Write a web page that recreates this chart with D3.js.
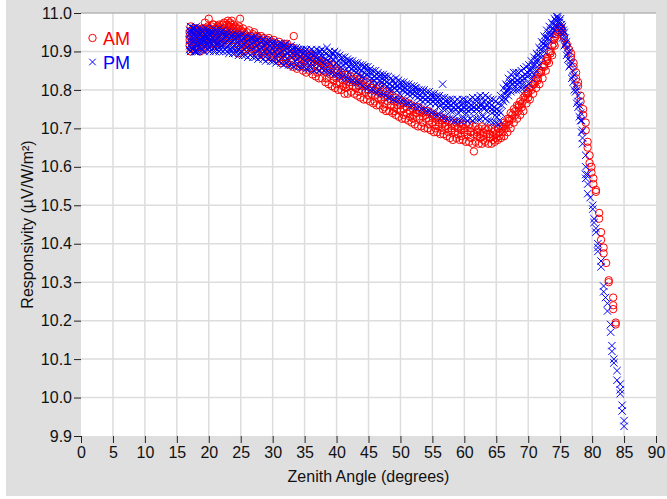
<!DOCTYPE html>
<html>
<head>
<meta charset="utf-8">
<script src="https://cdn.jsdelivr.net/npm/d3@7/dist/d3.min.js"></script>
<style>
  html, body { margin: 0; padding: 0; background: #ffffff; }
  svg { display: block; }
  text { font-family: "Liberation Sans", Arial, Helvetica, sans-serif; }
</style>
</head>
<body>
<svg id="chart" width="667" height="499"></svg>
<script>
// Axis ticks
const xTicks = [0, 5, 10, 15, 20, 25, 30, 35, 40, 45, 50, 55, 60, 65, 70, 75, 80, 85, 90];
const yTicks = [9.9, 10.0, 10.1, 10.2, 10.3, 10.4, 10.5, 10.6, 10.7, 10.8, 10.9, 11.0];

// Morning measurements: [zenith angle, [responsivity readings at that angle]]
const amRows = [
  [17.0, [10.93, 10.95, 10.915, 10.94]],
  [17.3, [10.925, 10.955, 10.91]],
  [17.6, [10.94, 10.92, 10.96]],
  [17.9, [10.935, 10.905, 10.95]],
  [18.2, [10.93, 10.945, 10.915, 10.96]],
  [18.5, [10.94, 10.925]],
  [18.8, [10.95, 10.91, 10.935]],
  [19.1, [10.94, 10.96, 10.92]],
  [19.4, [10.945, 10.93, 10.975]],
  [19.7, [10.95, 10.915]],
  [20.0, [10.985, 10.94, 10.925, 10.96]],
  [20.3, [10.95, 10.93]],
  [20.6, [10.955, 10.935, 10.97]],
  [20.9, [10.94, 10.92]],
  [21.2, [10.96, 10.945, 10.93]],
  [21.5, [10.95, 10.965]],
  [21.8, [10.94, 10.955, 10.925]],
  [22.1, [10.97, 10.95]],
  [22.4, [10.975, 10.94, 10.96]],
  [22.7, [10.955, 10.93]],
  [23.0, [10.98, 10.96, 10.945]],
  [23.3, [10.965, 10.975, 10.95]],
  [23.6, [10.98, 10.955]],
  [23.9, [10.96, 10.94, 10.97]],
  [24.2, [10.95, 10.93]],
  [24.6, [10.96, 10.895, 10.945]],
  [24.9, [10.985, 10.95]],
  [25.2, [10.94, 10.92, 10.93]],
  [25.5, [10.935, 10.95]],
  [25.8, [10.925, 10.905]],
  [26.1, [10.94, 10.92, 10.93]],
  [26.5, [10.935, 10.915]],
  [26.9, [10.93, 10.92, 10.945]],
  [27.3, [10.91, 10.93]],
  [27.6, [10.925, 10.895, 10.94]],
  [28.0, [10.915, 10.93]],
  [28.4, [10.92, 10.9]],
  [28.8, [10.91, 10.925]],
  [29.2, [10.9, 10.92, 10.93]],
  [29.6, [10.905, 10.915]],
  [30.0, [10.92, 10.895]],
  [30.4, [10.91, 10.9]],
  [30.8, [10.895, 10.915, 10.905]],
  [31.2, [10.9, 10.885]],
  [31.6, [10.91, 10.895]],
  [32.0, [10.9, 10.885, 10.915]],
  [32.5, [10.89, 10.905]],
  [33.0, [10.895, 10.875]],
  [33.3, [10.94]],
  [33.6, [10.885, 10.9]],
  [34.0, [10.87, 10.89, 10.88]],
  [34.5, [10.88, 10.865]],
  [35.0, [10.875, 10.885, 10.86]],
  [35.5, [10.87, 10.885]],
  [36.0, [10.875, 10.855, 10.89]],
  [36.5, [10.865, 10.88]],
  [37.0, [10.86, 10.875, 10.845]],
  [37.5, [10.855, 10.87]],
  [38.0, [10.85, 10.865]],
  [38.5, [10.845, 10.86, 10.83]],
  [39.0, [10.84, 10.855]],
  [39.5, [10.835, 10.825]],
  [40.0, [10.83, 10.845, 10.815]],
  [40.5, [10.82, 10.835]],
  [41.0, [10.825, 10.81]],
  [41.5, [10.815, 10.83, 10.805]],
  [42.0, [10.82, 10.81]],
  [42.5, [10.81, 10.825]],
  [43.0, [10.805, 10.82]],
  [43.5, [10.81, 10.795, 10.825]],
  [44.0, [10.8, 10.815]],
  [44.5, [10.795, 10.81]],
  [45.0, [10.8, 10.785]],
  [45.5, [10.79, 10.805]],
  [46.0, [10.785, 10.77, 10.8]],
  [46.5, [10.78, 10.795]],
  [47.0, [10.775, 10.79]],
  [47.5, [10.765, 10.78, 10.755]],
  [48.0, [10.77, 10.785]],
  [48.5, [10.76, 10.775]],
  [49.0, [10.755, 10.77, 10.745]],
  [49.5, [10.76, 10.75]],
  [50.0, [10.745, 10.76]],
  [50.5, [10.75, 10.735, 10.765]],
  [51.0, [10.74, 10.755]],
  [51.5, [10.745, 10.73]],
  [52.0, [10.735, 10.75, 10.725]],
  [52.5, [10.74, 10.73]],
  [53.0, [10.725, 10.745]],
  [53.5, [10.73, 10.715, 10.74]],
  [54.0, [10.725, 10.735]],
  [54.5, [10.72, 10.71]],
  [55.0, [10.715, 10.73]],
  [55.5, [10.71, 10.725, 10.7]],
  [56.0, [10.715, 10.705]],
  [56.5, [10.71, 10.695, 10.72]],
  [57.0, [10.705, 10.715]],
  [57.5, [10.7, 10.69]],
  [58.0, [10.71, 10.695, 10.7]],
  [58.2, [10.67]],
  [58.5, [10.69, 10.705]],
  [59.0, [10.7, 10.685]],
  [59.5, [10.695, 10.705, 10.68]],
  [60.0, [10.69, 10.7]],
  [60.5, [10.685, 10.695]],
  [61.0, [10.69, 10.675, 10.7]],
  [61.3, [10.66]],
  [61.5, [10.64, 10.685]],
  [62.0, [10.69, 10.68, 10.695]],
  [62.5, [10.685, 10.675]],
  [63.0, [10.68, 10.69, 10.67]],
  [63.5, [10.685, 10.695]],
  [64.0, [10.675, 10.685]],
  [64.5, [10.68, 10.69, 10.67]],
  [65.0, [10.685, 10.675]],
  [65.5, [10.68, 10.69]],
  [66.0, [10.7, 10.69, 10.705]],
  [66.5, [10.71, 10.7]],
  [67.0, [10.72, 10.71, 10.725]],
  [67.5, [10.735, 10.725]],
  [68.0, [10.745, 10.735]],
  [68.5, [10.755, 10.745, 10.76]],
  [69.0, [10.765, 10.755]],
  [69.5, [10.775, 10.785]],
  [70.0, [10.79, 10.78, 10.795]],
  [70.5, [10.8, 10.81]],
  [71.0, [10.815, 10.82]],
  [71.5, [10.83, 10.825, 10.84]],
  [72.0, [10.845, 10.85]],
  [72.5, [10.86, 10.865]],
  [73.0, [10.88, 10.875, 10.885]],
  [73.5, [10.9, 10.895]],
  [74.0, [10.93, 10.92]],
  [74.3, [10.94, 10.945]],
  [74.6, [10.95, 10.955]],
  [74.9, [10.965, 10.96]],
  [75.2, [10.96, 10.955]],
  [75.6, [10.94, 10.935]],
  [76.0, [10.92, 10.915]],
  [76.4, [10.905]],
  [76.7, [10.895, 10.885]],
  [77.1, [10.87, 10.86]],
  [77.5, [10.845, 10.83]],
  [77.8, [10.82, 10.81]],
  [78.2, [10.785, 10.77]],
  [78.6, [10.75, 10.735]],
  [79.0, [10.715, 10.695]],
  [79.3, [10.665, 10.65]],
  [79.6, [10.63, 10.61]],
  [79.9, [10.6, 10.585]],
  [80.2, [10.57, 10.555]],
  [80.6, [10.54, 10.535]],
  [81.1, [10.48, 10.465]],
  [81.4, [10.43, 10.41]],
  [81.8, [10.39, 10.375]],
  [82.2, [10.35]],
  [82.6, [10.305, 10.3]],
  [83.3, [10.26, 10.24, 10.23]],
  [83.7, [10.195, 10.19]]
];

// Further morning readings (other days), toward the edges of the band
const amRowsOther = [
  [17.15, [10.9, 10.965]], [17.45, [10.945, 10.905]], [17.75, [10.96, 10.925]],
  [18.05, [10.91, 10.95]], [18.35, [10.955, 10.92]], [18.65, [10.9, 10.955]],
  [18.95, [10.96, 10.925]], [19.25, [10.905, 10.95]], [19.55, [10.96, 10.92]],
  [19.85, [10.965, 10.935]], [20.15, [10.91, 10.96]], [20.45, [10.965, 10.92]],
  [20.75, [10.945, 10.97]], [21.05, [10.96, 10.915]], [21.35, [10.935, 10.965]],
  [21.65, [10.97, 10.92]], [21.95, [10.96, 10.935]], [22.25, [10.97, 10.925]],
  [22.55, [10.96, 10.945]], [22.85, [10.97, 10.92]], [23.15, [10.965, 10.935]],
  [23.45, [10.97, 10.94]], [23.75, [10.96, 10.93]], [24.05, [10.965, 10.92]],
  [24.35, [10.94, 10.96]], [24.75, [10.965, 10.915]], [25.05, [10.955, 10.91]],
  [25.35, [10.96, 10.92]], [25.65, [10.945, 10.9]], [25.95, [10.95, 10.91]],
  [26.3, [10.955, 10.905]], [26.7, [10.9, 10.94]], [27.1, [10.95, 10.905]],
  [27.45, [10.94, 10.9]], [27.8, [10.89, 10.935]], [28.2, [10.94, 10.905]],
  [28.6, [10.895, 10.935]], [29.0, [10.93, 10.885]], [29.4, [10.89, 10.935]],
  [29.8, [10.925, 10.885]], [30.2, [10.93, 10.885]], [30.6, [10.88, 10.92]],
  [31.0, [10.925, 10.875]], [31.4, [10.915, 10.87]], [31.8, [10.875, 10.92]],
  [32.25, [10.92, 10.87]], [32.75, [10.91, 10.865]], [33.15, [10.91, 10.86]],
  [33.8, [10.9, 10.855]], [34.25, [10.895, 10.86]], [34.75, [10.895, 10.85]],
  [35.25, [10.89, 10.845]], [35.75, [10.85, 10.895]], [36.25, [10.885, 10.84]],
  [36.75, [10.88, 10.835]], [37.25, [10.83, 10.875]], [37.75, [10.875, 10.83]],
  [38.25, [10.87, 10.82]], [38.75, [10.815, 10.87]], [39.25, [10.865, 10.81]],
  [39.75, [10.855, 10.805]], [40.25, [10.8, 10.85]], [40.75, [10.845, 10.8]],
  [41.25, [10.84, 10.79]], [41.75, [10.79, 10.84]], [42.25, [10.835, 10.795]],
  [42.75, [10.79, 10.83]], [43.25, [10.835, 10.785]], [43.75, [10.78, 10.83]],
  [44.25, [10.825, 10.775]], [44.75, [10.82, 10.775]], [45.25, [10.77, 10.815]],
  [45.75, [10.815, 10.765]], [46.25, [10.76, 10.805]], [46.75, [10.81, 10.76]],
  [47.25, [10.8, 10.75]], [47.75, [10.745, 10.795]], [48.25, [10.79, 10.745]],
  [48.75, [10.74, 10.785]], [49.25, [10.78, 10.735]], [49.75, [10.775, 10.73]],
  [50.25, [10.725, 10.77]], [50.75, [10.77, 10.725]], [51.25, [10.72, 10.765]],
  [51.75, [10.76, 10.715]], [52.25, [10.755, 10.71]], [52.75, [10.705, 10.755]],
  [53.25, [10.75, 10.705]], [53.75, [10.7, 10.745]], [54.25, [10.745, 10.7]],
  [54.75, [10.74, 10.695]], [55.25, [10.69, 10.735]], [55.75, [10.73, 10.69]],
  [56.25, [10.685, 10.73]], [56.75, [10.725, 10.685]], [57.25, [10.72, 10.68]],
  [57.75, [10.675, 10.72]], [58.75, [10.715, 10.675]], [59.25, [10.67, 10.715]],
  [59.75, [10.71, 10.67]], [60.25, [10.665, 10.71]], [60.75, [10.71, 10.665]],
  [61.75, [10.705, 10.665]], [62.25, [10.66, 10.7]], [62.75, [10.705, 10.66]],
  [63.25, [10.665, 10.7]], [63.75, [10.7, 10.66]], [64.25, [10.66, 10.7]],
  [64.75, [10.695, 10.665]], [65.25, [10.67, 10.7]], [65.75, [10.705, 10.675]],
  [66.25, [10.68, 10.715]], [66.75, [10.725, 10.69]], [67.25, [10.7, 10.74]],
  [67.75, [10.75, 10.715]], [68.25, [10.725, 10.76]], [68.75, [10.77, 10.735]],
  [69.25, [10.745, 10.78]], [69.75, [10.79, 10.765]], [70.25, [10.775, 10.805]],
  [70.75, [10.815, 10.79]], [71.25, [10.805, 10.83]], [71.75, [10.845, 10.815]],
  [72.25, [10.83, 10.86]], [72.75, [10.875, 10.85]], [73.25, [10.87, 10.9]],
  [73.75, [10.915, 10.89]], [74.15, [10.935, 10.915]]
];

// Afternoon measurements: [zenith angle, [responsivity readings at that angle]]
const pmRows = [
  [17.0, [10.93, 10.945, 10.915, 10.955, 10.905]],
  [17.3, [10.92, 10.94, 10.93]],
  [17.6, [10.95, 10.91, 10.935, 10.96]],
  [17.9, [10.925, 10.94, 10.9]],
  [18.2, [10.935, 10.955, 10.915]],
  [18.5, [10.93, 10.945, 10.91]],
  [18.8, [10.94, 10.92, 10.955]],
  [19.1, [10.925, 10.935, 10.905]],
  [19.4, [10.945, 10.93, 10.915]],
  [19.7, [10.94, 10.92, 10.955]],
  [20.0, [10.93, 10.945, 10.91]],
  [20.3, [10.925, 10.94]],
  [20.6, [10.935, 10.915, 10.95]],
  [20.9, [10.93, 10.91, 10.94]],
  [21.2, [10.92, 10.945, 10.93]],
  [21.5, [10.935, 10.915]],
  [21.8, [10.925, 10.94, 10.905]],
  [22.1, [10.93, 10.915, 10.945]],
  [22.4, [10.92, 10.935]],
  [22.7, [10.925, 10.91, 10.94]],
  [23.0, [10.93, 10.915]],
  [23.3, [10.92, 10.935, 10.905]],
  [23.6, [10.925, 10.94]],
  [23.9, [10.915, 10.93, 10.905]],
  [24.2, [10.92, 10.935]],
  [24.5, [10.91, 10.925, 10.94]],
  [24.8, [10.92, 10.905]],
  [25.1, [10.915, 10.93, 10.9]],
  [25.5, [10.92, 10.935]],
  [25.9, [10.91, 10.925, 10.9]],
  [26.3, [10.915, 10.93]],
  [26.7, [10.905, 10.92, 10.935]],
  [27.1, [10.91, 10.925]],
  [27.5, [10.9, 10.915, 10.93]],
  [27.9, [10.905, 10.92]],
  [28.3, [10.91, 10.895, 10.925]],
  [28.7, [10.9, 10.915]],
  [29.1, [10.905, 10.92, 10.89]],
  [29.5, [10.9, 10.915]],
  [29.9, [10.895, 10.91, 10.92]],
  [30.3, [10.9, 10.885]],
  [30.7, [10.905, 10.89, 10.915]],
  [31.1, [10.895, 10.91]],
  [31.5, [10.9, 10.885]],
  [31.9, [10.89, 10.905, 10.915]],
  [32.3, [10.895, 10.88]],
  [32.7, [10.9, 10.89]],
  [33.1, [10.885, 10.905, 10.895]],
  [33.5, [10.89, 10.875]],
  [33.9, [10.895, 10.88, 10.905]],
  [34.3, [10.885, 10.9]],
  [34.7, [10.88, 10.895]],
  [35.1, [10.89, 10.875, 10.9]],
  [35.5, [10.885, 10.87]],
  [35.9, [10.88, 10.895]],
  [36.3, [10.875, 10.89, 10.865]],
  [36.7, [10.885, 10.895]],
  [37.1, [10.88, 10.87]],
  [37.5, [10.875, 10.89, 10.9]],
  [37.9, [10.885, 10.87]],
  [38.3, [10.88, 10.865, 10.895]],
  [38.7, [10.875, 10.89]],
  [39.1, [10.87, 10.885]],
  [39.5, [10.88, 10.86, 10.895]],
  [39.9, [10.87, 10.885]],
  [40.3, [10.865, 10.875]],
  [40.7, [10.86, 10.88, 10.85]],
  [41.1, [10.865, 10.875]],
  [41.5, [10.855, 10.87]],
  [41.9, [10.86, 10.845, 10.875]],
  [42.3, [10.855, 10.865]],
  [42.7, [10.85, 10.86]],
  [43.1, [10.845, 10.865, 10.855]],
  [43.5, [10.84, 10.855]],
  [43.9, [10.85, 10.835]],
  [44.3, [10.845, 10.86, 10.83]],
  [44.7, [10.84, 10.85]],
  [45.1, [10.835, 10.845]],
  [45.5, [10.83, 10.845, 10.82]],
  [45.9, [10.835, 10.825]],
  [46.3, [10.83, 10.815, 10.84]],
  [46.7, [10.825, 10.835]],
  [47.1, [10.82, 10.81]],
  [47.5, [10.825, 10.815, 10.835]],
  [47.9, [10.81, 10.82]],
  [48.3, [10.815, 10.8]],
  [48.7, [10.81, 10.825, 10.8]],
  [49.1, [10.805, 10.815]],
  [49.5, [10.8, 10.81]],
  [49.9, [10.805, 10.79, 10.815]],
  [50.3, [10.8, 10.81]],
  [50.7, [10.795, 10.805]],
  [51.1, [10.79, 10.8, 10.81]],
  [51.5, [10.795, 10.785]],
  [51.9, [10.79, 10.8]],
  [52.3, [10.785, 10.795, 10.805]],
  [52.7, [10.78, 10.79]],
  [53.1, [10.785, 10.775]],
  [53.5, [10.78, 10.795, 10.77]],
  [53.9, [10.785, 10.775]],
  [54.3, [10.77, 10.78]],
  [54.7, [10.775, 10.765, 10.785]],
  [55.1, [10.77, 10.78]],
  [55.5, [10.765, 10.775]],
  [55.9, [10.77, 10.755, 10.78]],
  [56.3, [10.76, 10.77]],
  [56.6, [10.815]],
  [56.7, [10.765, 10.75]],
  [57.1, [10.76, 10.77, 10.75]],
  [57.5, [10.755, 10.765]],
  [57.9, [10.76, 10.745]],
  [58.3, [10.755, 10.765, 10.745]],
  [58.7, [10.75, 10.76]],
  [59.1, [10.755, 10.74]],
  [59.5, [10.75, 10.76, 10.745]],
  [59.9, [10.755, 10.765]],
  [60.3, [10.75, 10.74]],
  [60.7, [10.755, 10.765, 10.745]],
  [61.1, [10.75, 10.76]],
  [61.5, [10.755, 10.745]],
  [61.9, [10.76, 10.75, 10.77]],
  [62.3, [10.755, 10.745]],
  [62.7, [10.76, 10.765]],
  [63.1, [10.75, 10.77, 10.755]],
  [63.5, [10.76, 10.745]],
  [63.9, [10.755, 10.765]],
  [64.3, [10.75, 10.74, 10.76]],
  [64.7, [10.745, 10.755]],
  [65.1, [10.74, 10.75, 10.73]],
  [65.5, [10.745, 10.72]],
  [65.9, [10.76, 10.775]],
  [66.3, [10.79, 10.78]],
  [66.7, [10.8, 10.81, 10.795]],
  [67.1, [10.81, 10.82]],
  [67.5, [10.815, 10.825]],
  [67.9, [10.82, 10.81, 10.83]],
  [68.3, [10.815, 10.825]],
  [68.7, [10.82, 10.83]],
  [69.1, [10.825, 10.815, 10.835]],
  [69.5, [10.83, 10.84]],
  [69.9, [10.835, 10.845]],
  [70.3, [10.84, 10.85, 10.855]],
  [70.7, [10.855, 10.865]],
  [71.1, [10.865, 10.875]],
  [71.5, [10.875, 10.89, 10.88]],
  [71.9, [10.895, 10.905]],
  [72.3, [10.91, 10.92]],
  [72.7, [10.925, 10.935, 10.915]],
  [73.1, [10.935, 10.945]],
  [73.5, [10.945, 10.955]],
  [73.9, [10.96, 10.97]],
  [74.3, [10.97, 10.98]],
  [74.6, [10.985, 10.99]],
  [74.9, [10.98, 10.975]],
  [75.2, [10.97, 10.96]],
  [75.5, [10.955, 10.945]],
  [75.8, [10.935, 10.92]],
  [76.2, [10.91, 10.895, 10.88]],
  [76.6, [10.875, 10.865]],
  [77.0, [10.85, 10.835, 10.82]],
  [77.4, [10.81, 10.795]],
  [77.8, [10.785, 10.77, 10.755]],
  [78.2, [10.74, 10.72]],
  [78.5, [10.695, 10.675, 10.66]],
  [79.0, [10.63, 10.6, 10.58, 10.57]],
  [79.3, [10.58, 10.555, 10.53]],
  [79.7, [10.52]],
  [80.1, [10.5, 10.49]],
  [80.3, [10.465, 10.455]],
  [80.6, [10.43, 10.44]],
  [80.9, [10.4, 10.39, 10.38]],
  [81.4, [10.355, 10.34]],
  [81.8, [10.29, 10.275]],
  [82.1, [10.26]],
  [82.4, [10.245, 10.225]],
  [82.9, [10.19, 10.17]],
  [83.1, [10.135, 10.12]],
  [83.4, [10.1, 10.09]],
  [83.9, [10.07, 10.045]],
  [84.4, [10.035, 10.02, 10.01]],
  [84.7, [9.98, 9.965]],
  [85.0, [9.94, 9.925]]
];

// Further afternoon readings (other days), toward the edges of the band
const pmRowsOther = [
  [17.15, [10.965, 10.9, 10.95]], [17.45, [10.905, 10.96, 10.925]], [17.75, [10.945, 10.9, 10.96]],
  [18.05, [10.965, 10.92, 10.9]], [18.35, [10.95, 10.9, 10.94]], [18.65, [10.96, 10.92]],
  [18.95, [10.905, 10.95, 10.93]], [19.25, [10.955, 10.9, 10.94]], [19.55, [10.96, 10.925]],
  [19.85, [10.905, 10.95, 10.935]], [20.15, [10.955, 10.9, 10.925]], [20.45, [10.95, 10.905]],
  [20.75, [10.9, 10.96, 10.925]], [21.05, [10.955, 10.9]], [21.35, [10.905, 10.95, 10.92]],
  [21.65, [10.96, 10.9]], [21.95, [10.95, 10.915]], [22.25, [10.9, 10.955]],
  [22.55, [10.945, 10.905]], [22.85, [10.9, 10.95]], [23.15, [10.945, 10.895]],
  [23.45, [10.95, 10.905]], [23.75, [10.895, 10.945]], [24.05, [10.94, 10.895]],
  [24.35, [10.9, 10.945]], [24.65, [10.89, 10.94]], [24.95, [10.94, 10.895]],
  [25.3, [10.89, 10.945]], [25.7, [10.94, 10.89]], [26.1, [10.885, 10.94]],
  [26.5, [10.935, 10.89]], [26.9, [10.885, 10.935]], [27.3, [10.94, 10.885]],
  [27.7, [10.88, 10.93]], [28.1, [10.935, 10.885]], [28.5, [10.88, 10.93]],
  [28.9, [10.925, 10.875]], [29.3, [10.88, 10.93]], [29.7, [10.875, 10.925]],
  [30.1, [10.925, 10.875]], [30.5, [10.87, 10.92]], [30.9, [10.92, 10.875]],
  [31.3, [10.87, 10.92]], [31.7, [10.915, 10.865]], [32.1, [10.87, 10.92]],
  [32.5, [10.91, 10.865]], [32.9, [10.865, 10.915]], [33.3, [10.91, 10.86]],
  [33.7, [10.865, 10.91]], [34.1, [10.905, 10.86]], [34.5, [10.86, 10.905]],
  [34.9, [10.905, 10.86]], [35.3, [10.855, 10.905]], [35.7, [10.9, 10.855]],
  [36.1, [10.905, 10.855]], [36.5, [10.85, 10.9]], [36.9, [10.905, 10.855]],
  [37.3, [10.85, 10.9]], [37.7, [10.905, 10.855]], [38.1, [10.85, 10.9]],
  [38.5, [10.91, 10.85]], [38.9, [10.845, 10.9]], [39.3, [10.895, 10.845]],
  [39.7, [10.84, 10.9]], [40.1, [10.895, 10.84]], [40.5, [10.835, 10.89]],
  [40.9, [10.885, 10.835]], [41.3, [10.83, 10.885]], [41.7, [10.88, 10.83]],
  [42.1, [10.825, 10.875]], [42.5, [10.875, 10.825]], [42.9, [10.82, 10.87]],
  [43.3, [10.87, 10.82]], [43.7, [10.815, 10.865]], [44.1, [10.865, 10.81]],
  [44.5, [10.805, 10.86]], [44.9, [10.86, 10.805]], [45.3, [10.8, 10.855]],
  [45.7, [10.85, 10.8]], [46.1, [10.795, 10.85]], [46.5, [10.845, 10.795]],
  [46.9, [10.79, 10.84]], [47.3, [10.84, 10.79]], [47.7, [10.785, 10.835]],
  [48.1, [10.835, 10.78]], [48.5, [10.78, 10.83]], [48.9, [10.825, 10.775]],
  [49.3, [10.775, 10.83]], [49.7, [10.825, 10.775]], [50.1, [10.77, 10.82]],
  [50.5, [10.82, 10.77]], [50.9, [10.765, 10.815]], [51.3, [10.815, 10.765]],
  [51.7, [10.76, 10.81]], [52.1, [10.81, 10.76]], [52.5, [10.755, 10.805]],
  [52.9, [10.8, 10.755]], [53.3, [10.75, 10.8]], [53.7, [10.8, 10.75]],
  [54.1, [10.745, 10.795]], [54.5, [10.795, 10.745]], [54.9, [10.74, 10.79]],
  [55.3, [10.79, 10.74]], [55.7, [10.735, 10.785]], [56.1, [10.785, 10.735]],
  [56.5, [10.73, 10.78]], [56.9, [10.78, 10.73]], [57.3, [10.725, 10.775]],
  [57.7, [10.775, 10.725]], [58.1, [10.725, 10.775]], [58.5, [10.77, 10.72]],
  [58.9, [10.72, 10.775]], [59.3, [10.77, 10.72]], [59.7, [10.725, 10.775]],
  [60.1, [10.775, 10.725]], [60.5, [10.72, 10.77]], [60.9, [10.775, 10.725]],
  [61.3, [10.72, 10.78]], [61.7, [10.775, 10.725]], [62.1, [10.725, 10.78]],
  [62.5, [10.785, 10.725]], [62.9, [10.73, 10.78]], [63.3, [10.785, 10.725]],
  [63.7, [10.72, 10.78]], [64.1, [10.775, 10.72]], [64.5, [10.715, 10.775]],
  [64.9, [10.77, 10.715]], [65.3, [10.71, 10.765]], [65.7, [10.74, 10.785]],
  [66.1, [10.77, 10.805]], [66.5, [10.815, 10.775]], [66.9, [10.785, 10.83]],
  [67.3, [10.84, 10.795]], [67.7, [10.8, 10.845]], [68.1, [10.845, 10.8]],
  [68.5, [10.8, 10.845]], [68.9, [10.85, 10.805]], [69.3, [10.805, 10.855]],
  [69.7, [10.86, 10.81]], [70.1, [10.815, 10.865]], [70.5, [10.875, 10.83]],
  [70.9, [10.84, 10.885]], [71.3, [10.895, 10.85]], [71.7, [10.865, 10.91]],
  [72.1, [10.925, 10.885]], [72.5, [10.9, 10.94]], [72.9, [10.955, 10.915]],
  [73.3, [10.93, 10.965]], [73.7, [10.975, 10.945]], [74.1, [10.955, 10.985]],
  [74.45, [10.99, 10.965]], [75.05, [10.985, 10.95]], [75.35, [10.965, 10.935]],
  [75.65, [10.95, 10.915]], [76.0, [10.925, 10.89]], [76.4, [10.9, 10.86]],
  [76.8, [10.87, 10.83]], [77.2, [10.84, 10.8]], [77.6, [10.8, 10.765]],
  [78.0, [10.76, 10.73]], [78.35, [10.72, 10.69]]
];

const seriesNames = ["AM", "PM"];
const seriesColors = ["#ff0000", "#0000ff"];

// Expand each row into individual (angle, value) points
const toPoints = rows => rows.flatMap(([a, vals]) => vals.map(v => ({ a, v })));
const amPoints = toPoints(amRows).concat(toPoints(amRowsOther));
const pmPoints = toPoints(pmRows).concat(toPoints(pmRowsOther));

const svg = d3.select("#chart");
const W = 667, H = 499;
const margin = { left: 81, right: 11, top: 13, bottom: 63 };
const plotW = W - margin.left - margin.right;
const plotH = H - margin.top - margin.bottom;

// Grey page frame
svg.append("rect").attr("x", 6).attr("y", 0).attr("width", W - 6).attr("height", 496)
  .attr("fill", "#dfdfdf");

const g = svg.append("g").attr("transform", `translate(${margin.left},${margin.top})`);

g.append("rect").attr("width", plotW).attr("height", plotH).attr("fill", "#ffffff");

const x = d3.scaleLinear().domain([0, 90]).range([0, plotW]);
const y = d3.scaleLinear().domain([9.9, 11.0]).range([plotH, 0]);

// Grid lines
g.append("g").selectAll("line").data(xTicks.slice(1, -1)).join("line")
  .attr("x1", d => x(d)).attr("x2", d => x(d))
  .attr("y1", 0).attr("y2", plotH)
  .attr("stroke", "#dddddd").attr("stroke-width", 1.5);
g.append("g").selectAll("line").data(yTicks.slice(1)).join("line")
  .attr("x1", 0).attr("x2", plotW)
  .attr("y1", d => y(d)).attr("y2", d => y(d))
  .attr("stroke", d => d === 11.0 ? "#b4b4b4" : "#dddddd").attr("stroke-width", 1.5);

// Axes
const xAxis = d3.axisBottom(x).tickValues(xTicks).tickFormat(d3.format("d"))
  .tickSize(7).tickPadding(4);
const yAxis = d3.axisLeft(y).tickValues(yTicks).tickFormat(d3.format(".1f"))
  .tickSize(7).tickPadding(2);

const gx = g.append("g").attr("transform", `translate(0,${plotH})`).call(xAxis);
const gy = g.append("g").call(yAxis);
[gx, gy].forEach(ax => {
  ax.select(".domain").remove();
  ax.selectAll(".tick line").attr("stroke", "#222").attr("stroke-width", 1);
  ax.selectAll(".tick text").attr("fill", "#111")
    .style("font-size", "16px")
    .style("font-family", "'Liberation Sans', Arial, Helvetica, sans-serif");
});

// Axis titles
svg.append("text")
  .attr("x", margin.left + plotW / 2).attr("y", 482)
  .attr("text-anchor", "middle").attr("fill", "#111")
  .style("font-size", "16px")
  .text("Zenith Angle (degrees)");

svg.append("text")
  .attr("transform", `translate(33,${margin.top + plotH / 2}) rotate(-90)`)
  .attr("text-anchor", "middle").attr("fill", "#111")
  .style("font-size", "16px")
  .text("Responsivity (µV/W/m²)");

// Markers
const r = 3.7;
const crossHalf = 3.7;
g.append("g").selectAll("circle").data(amPoints).join("circle")
  .attr("cx", d => x(d.a)).attr("cy", d => y(d.v)).attr("r", r)
  .attr("fill", "none").attr("stroke", seriesColors[0]).attr("stroke-width", 1);

const crossPath = s => `M${-s},${-s}L${s},${s}M${-s},${s}L${s},${-s}`;
g.append("g").selectAll("path").data(pmPoints).join("path")
  .attr("transform", d => `translate(${x(d.a)},${y(d.v)})`)
  .attr("d", crossPath(crossHalf))
  .attr("fill", "none").attr("stroke", seriesColors[1]).attr("stroke-width", 1);

// Legend
const legend = svg.append("g").attr("transform", "translate(92.5,38)");
legend.append("circle").attr("r", r).attr("fill", "none")
  .attr("stroke", seriesColors[0]).attr("stroke-width", 1);
legend.append("text").attr("x", 10.5).attr("y", 6.5)
  .attr("fill", seriesColors[0]).style("font-size", "18px").text(seriesNames[0]);
legend.append("path").attr("transform", "translate(0,24)").attr("d", crossPath(3.3))
  .attr("fill", "none").attr("stroke", seriesColors[1]).attr("stroke-width", 1);
legend.append("text").attr("x", 10.5).attr("y", 30.5)
  .attr("fill", seriesColors[1]).style("font-size", "18px").text(seriesNames[1]);
</script>
</body>
</html>
